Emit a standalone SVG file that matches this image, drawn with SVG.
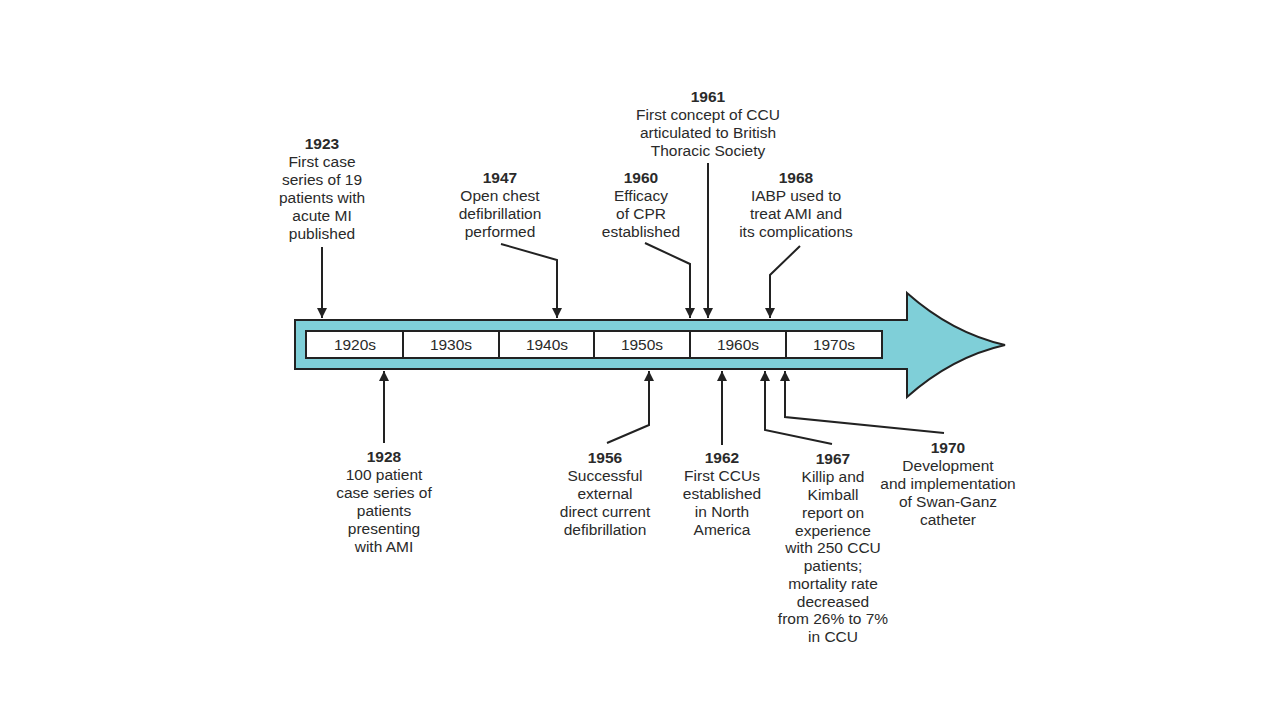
<svg xmlns="http://www.w3.org/2000/svg" width="1280" height="720" viewBox="0 0 1280 720">
<defs>
<style>
text{font-family:"Liberation Sans",Arial,sans-serif;font-size:15.5px;fill:#2a2a2a;text-anchor:middle}
.y{font-weight:bold}
.c{fill:none;stroke:#222;stroke-width:2}
.cell{fill:#fff;stroke:#222;stroke-width:2}
</style>
<marker id="ah" viewBox="0 0 10 10" refX="10" refY="5" markerWidth="10" markerHeight="10" markerUnits="userSpaceOnUse" orient="auto">
<path d="M0,0 L10,5 L0,10 Z" fill="#222"/>
</marker>
</defs>
<rect width="1280" height="720" fill="#fff"/>
<g id="timeline">
<path d="M295,320 H907 V293 Q952,333 1005,345 Q952,357 907,397 V369 H295 Z" fill="#7fcfd8" stroke="#222" stroke-width="2" stroke-linejoin="miter"/>
<rect class="cell" x="306" y="331" width="97" height="27"/>
<rect class="cell" x="403" y="331" width="96" height="27"/>
<rect class="cell" x="499" y="331" width="95" height="27"/>
<rect class="cell" x="594" y="331" width="96" height="27"/>
<rect class="cell" x="690" y="331" width="96" height="27"/>
<rect class="cell" x="786" y="331" width="96" height="27"/>
<text x="355" y="350">1920s</text>
<text x="451" y="350">1930s</text>
<text x="547" y="350">1940s</text>
<text x="642" y="350">1950s</text>
<text x="738" y="350">1960s</text>
<text x="834" y="350">1970s</text>
</g>
<g id="connectors">
<path class="c" d="M322,247 V318" marker-end="url(#ah)"/>
<path class="c" d="M501,244 L557,260 V318" marker-end="url(#ah)"/>
<path class="c" d="M645,243 L690,264 V318" marker-end="url(#ah)"/>
<path class="c" d="M708,163 V318" marker-end="url(#ah)"/>
<path class="c" d="M800,246 L770,275 V318" marker-end="url(#ah)"/>
<path class="c" d="M384,443 V371" marker-end="url(#ah)"/>
<path class="c" d="M607,443 L649,425 V371" marker-end="url(#ah)"/>
<path class="c" d="M722,445 V371" marker-end="url(#ah)"/>
<path class="c" d="M832,444 L765,430 V371" marker-end="url(#ah)"/>
<path class="c" d="M944,433 L785,417 V371" marker-end="url(#ah)"/>
</g>
<g id="e1923">
<text x="322" y="149" class="y">1923</text>
<text x="322" y="167">First case</text>
<text x="322" y="185">series of 19</text>
<text x="322" y="203">patients with</text>
<text x="322" y="221">acute MI</text>
<text x="322" y="239">published</text>
</g>
<g id="e1947">
<text x="500" y="183" class="y">1947</text>
<text x="500" y="201">Open chest</text>
<text x="500" y="219">defibrillation</text>
<text x="500" y="237">performed</text>
</g>
<g id="e1960">
<text x="641" y="183" class="y">1960</text>
<text x="641" y="201">Efficacy</text>
<text x="641" y="219">of CPR</text>
<text x="641" y="237">established</text>
</g>
<g id="e1961">
<text x="708" y="102" class="y">1961</text>
<text x="708" y="120">First concept of CCU</text>
<text x="708" y="138">articulated to British</text>
<text x="708" y="156">Thoracic Society</text>
</g>
<g id="e1968">
<text x="796" y="183" class="y">1968</text>
<text x="796" y="201">IABP used to</text>
<text x="796" y="219">treat AMI and</text>
<text x="796" y="237">its complications</text>
</g>
<g id="e1928">
<text x="384" y="462" class="y">1928</text>
<text x="384" y="480">100 patient</text>
<text x="384" y="498">case series of</text>
<text x="384" y="516">patients</text>
<text x="384" y="534">presenting</text>
<text x="384" y="552">with AMI</text>
</g>
<g id="e1956">
<text x="605" y="463" class="y">1956</text>
<text x="605" y="481">Successful</text>
<text x="605" y="499">external</text>
<text x="605" y="517">direct current</text>
<text x="605" y="535">defibrillation</text>
</g>
<g id="e1962">
<text x="722" y="463" class="y">1962</text>
<text x="722" y="481">First CCUs</text>
<text x="722" y="499">established</text>
<text x="722" y="517">in North</text>
<text x="722" y="535">America</text>
</g>
<g id="e1967">
<text x="833" y="464" class="y">1967</text>
<text x="833" y="482">Killip and</text>
<text x="833" y="500">Kimball</text>
<text x="833" y="518">report on</text>
<text x="833" y="536">experience</text>
<text x="833" y="553">with 250 CCU</text>
<text x="833" y="571">patients;</text>
<text x="833" y="589">mortality rate</text>
<text x="833" y="607">decreased</text>
<text x="833" y="624">from 26% to 7%</text>
<text x="833" y="642">in CCU</text>
</g>
<g id="e1970">
<text x="948" y="453" class="y">1970</text>
<text x="948" y="471">Development</text>
<text x="948" y="489">and implementation</text>
<text x="948" y="507">of Swan-Ganz</text>
<text x="948" y="525">catheter</text>
</g>
</svg>
